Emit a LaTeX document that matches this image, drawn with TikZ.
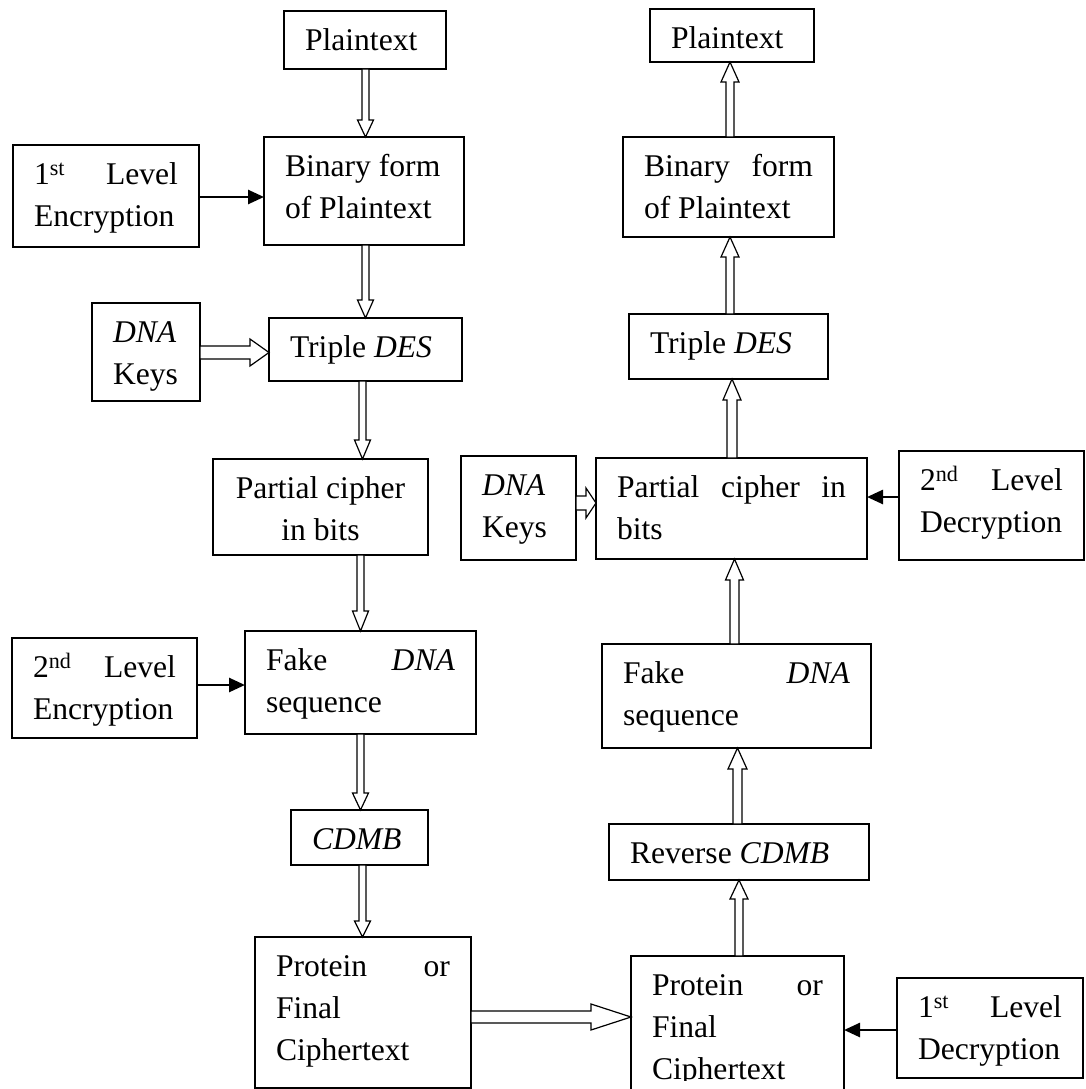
\documentclass[tikz,border=0pt]{standalone}
\usepackage{fontspec}
\setmainfont{Liberation Serif}
\usetikzlibrary{calc,arrows.meta}

\tikzset{
  box/.style={draw, line width=1.7pt, inner xsep=21pt, inner ysep=0pt,
              outer sep=0pt, anchor=north west},
  blk/.style={draw, fill=white, line width=1.2pt, line join=miter},
  feed/.style={line width=2.6pt, -{Triangle[length=16pt,width=14pt]}},
}
% text block of a box: width, height, contents (top aligned)
\newcommand\bt[3]{\parbox[c][#2pt][t]{#1pt}{\fontsize{31.6}{42}\selectfont\rule{0pt}{39.5pt}#3}}
% hollow block arrows: from, to, x (or y), shaft half width, head half width, head length
\newcommand\blkdown[6]{\draw[blk] let \p1=(#1), \p2=(#2) in
  (#3pt-#4pt,\y1) -- (#3pt-#4pt,\y2+#6pt) -- (#3pt-#5pt,\y2+#6pt) -- (#3pt,\y2)
  -- (#3pt+#5pt,\y2+#6pt) -- (#3pt+#4pt,\y2+#6pt) -- (#3pt+#4pt,\y1) -- cycle;}
\newcommand\blkup[6]{\draw[blk] let \p1=(#1), \p2=(#2) in
  (#3pt-#4pt,\y1) -- (#3pt-#4pt,\y2-#6pt) -- (#3pt-#5pt,\y2-#6pt) -- (#3pt,\y2)
  -- (#3pt+#5pt,\y2-#6pt) -- (#3pt+#4pt,\y2-#6pt) -- (#3pt+#4pt,\y1) -- cycle;}
\newcommand\blkright[6]{\draw[blk] let \p1=(#1), \p2=(#2) in
  (\x1,-#3pt+#4pt) -- (\x2-#6pt,-#3pt+#4pt) -- (\x2-#6pt,-#3pt+#5pt) -- (\x2,-#3pt)
  -- (\x2-#6pt,-#3pt-#5pt) -- (\x2-#6pt,-#3pt-#4pt) -- (\x1,-#3pt-#4pt) -- cycle;}

\begin{document}
\begin{tikzpicture}[x=1pt,y=1pt]
\useasboundingbox (0,0) rectangle (1085,-1089);
\fill[white] (0,0) rectangle (1085,-1089);
\clip (0,0) rectangle (1085,-1089);

% ---- encryption side ----
\node[box] (plainL) at (284,-11)  {\bt{120}{58}{Plaintext}};
\node[box] (binL)   at (264,-137) {\bt{158}{108}{Binary form\\of Plaintext}};
\node[box] (enc1)   at (13,-145)  {\bt{144}{102}{1\textsuperscript{st}\hfill Level\\Encryption}};
\node[box] (keysL)  at (92,-303)  {\bt{66}{98}{\emph{DNA}\\Keys}};
\node[box] (tripL)  at (269,-318) {\bt{151}{63}{Triple \emph{DES}}};
\node[box] (partL)  at (213,-459) {\bt{173}{96}{\centering Partial cipher\\in bits}};
\node[box] (fakeL)  at (245,-631) {\bt{189}{103}{Fake\hfill\emph{DNA}\\sequence}};
\node[box] (enc2)   at (12,-638)  {\bt{143}{100}{2\textsuperscript{nd}\hfill Level\\Encryption}};
\node[box] (cdmb)   at (291,-810) {\bt{95}{55}{\emph{CDMB}}};
\node[box] (protL)  at (255,-937) {\bt{174}{151}{Protein\hfill or\\Final\\Ciphertext}};

% ---- decryption side ----
\node[box] (plainR) at (650,-9)   {\bt{122}{53}{Plaintext}};
\node[box] (binR)   at (623,-137) {\bt{169}{100}{Binary\hfill form\\of Plaintext}};
\node[box] (tripR)  at (629,-314) {\bt{157}{65}{Triple \emph{DES}}};
\node[box] (keysR)  at (461,-456) {\bt{73}{104}{\emph{DNA}\\Keys}};
\node[box] (partR)  at (596,-458) {\bt{229}{101}{Partial\hfill cipher\hfill in\\bits}};
\node[box] (dec2)   at (899,-451) {\bt{143}{109}{2\textsuperscript{nd}\hfill Level\\Decryption}};
\node[box] (fakeR)  at (602,-644) {\bt{227}{104}{Fake\hfill\emph{DNA}\\sequence}};
\node[box] (rev)    at (609,-824) {\bt{218}{56}{Reverse \emph{CDMB}}};
\node[box] (protR)  at (631,-956) {\bt{171}{150}{Protein\hfill or\\Final\\Ciphertext}};
\node[box] (dec1)   at (897,-978) {\bt{144}{100}{1\textsuperscript{st}\hfill Level\\Decryption}};
% the text area of the last cipher box ends just below its third line
\fill[white] (632.5,-1081) rectangle (842.5,-1095);

% ---- main flow, encryption ----
\blkdown{plainL.south}{binL.north}{365.5}{3.5}{8}{17}
\blkdown{binL.south}{tripL.north}{365.5}{3.5}{8}{18}
\blkdown{tripL.south}{partL.north}{362.5}{3.5}{8}{19}
\blkdown{partL.south}{fakeL.north}{360.5}{3.5}{8}{20}
\blkdown{fakeL.south}{cdmb.north}{360.5}{3.5}{8}{17}
\blkdown{cdmb.south}{protL.north}{362.5}{3.5}{8}{16}

% ---- main flow, decryption ----
\blkup{binR.north}{plainR.south}{730}{4}{9}{20}
\blkup{tripR.north}{binR.south}{730}{4}{9}{20}
\blkup{partR.north}{tripR.south}{732}{5}{9}{21}
\blkup{fakeR.north}{partR.south}{734.5}{4.5}{9}{21}
\blkup{rev.north}{fakeR.south}{737.5}{4.5}{9.5}{21}
\blkup{protR.north}{rev.south}{739}{4}{9}{19}

% ---- side inputs ----
\blkright{keysL.east}{tripL.west}{352.5}{6.5}{13.5}{19}
\blkright{keysR.east}{partR.west}{503}{7}{15}{10}
\blkright{protL.east}{protR.west}{1017}{6}{13}{40}

\draw[feed] (enc1.east |- 0,-197) -- (binL.west |- 0,-197);
\draw[feed] (enc2.east |- 0,-685) -- (fakeL.west |- 0,-685);
\draw[feed] (dec2.west |- 0,-497) -- (partR.east |- 0,-497);
\draw[feed] (dec1.west |- 0,-1030) -- (protR.east |- 0,-1030);
\end{tikzpicture}
\end{document}
